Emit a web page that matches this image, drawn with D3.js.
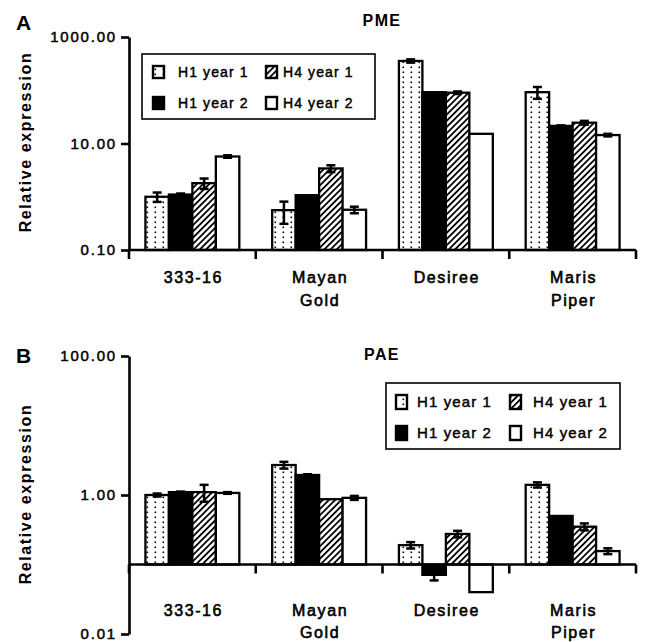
<!DOCTYPE html>
<html>
<head>
<meta charset="utf-8">
<script src="https://cdn.jsdelivr.net/npm/d3@7"></script>
<style>
  body { margin: 0; background: #fff; }
  svg text { font-family: Arial, "Liberation Sans", sans-serif; fill: #000; }
</style>
</head>
<body>
<div id="chart"></div>
<script>
// categories and series
var categories = ["333-16", "Mayan Gold", "Desiree", "Maris Piper"];
var categoryLines = [["333-16"], ["Mayan", "Gold"], ["Desiree"], ["Maris", "Piper"]];
var seriesNames = ["H1 year 1", "H1 year 2", "H4 year 1", "H4 year 2"];

// PME relative expression
var pmeH1Year1 = [1.0, 0.56, 355, 92];
var pmeH1Year2 = [1.1, 1.07, 92, 21.4];
var pmeH4Year1 = [1.8, 3.4, 90, 24.6];
var pmeH4Year2 = [5.7, 0.57, 15.2, 14.4];
var pmeErrH1Year1 = [0.2, 0.25, 25, 23];
var pmeErrH1Year2 = [0.05, 0, 0, 0.5];
var pmeErrH4Year1 = [0.4, 0.5, 5, 2];
var pmeErrH4Year2 = [0.3, 0.08, 0, 0.8];
var pmeTicks = [0.1, 10, 1000];

// PAE relative expression
var paeH1Year1 = [1.0, 2.7, 0.19, 1.4];
var paeH1Year2 = [1.1, 1.94, 0.071, 0.50];
var paeH4Year1 = [1.1, 0.87, 0.275, 0.35];
var paeH4Year2 = [1.07, 0.91, 0.04, 0.156];
var paeErrH1Year1 = [0.05, 0.3, 0.02, 0.12];
var paeErrH1Year2 = [0.02, 0.05, 0.012, 0];
var paeErrH4Year1 = [0.3, 0, 0.03, 0.04];
var paeErrH4Year2 = [0.03, 0.06, 0, 0.015];
var paeTicks = [0.01, 1, 100];

var width = 646, height = 642;

var svg = d3.select("#chart").append("svg")
    .attr("width", width)
    .attr("height", height);

var defs = svg.append("defs");

// dotted fill for H1 year 1
var dots = defs.append("pattern")
    .attr("id", "dots")
    .attr("patternUnits", "userSpaceOnUse")
    .attr("width", 8)
    .attr("height", 5);
dots.append("rect").attr("width", 8).attr("height", 5).attr("fill", "#fff");
dots.append("rect").attr("x", 2.5).attr("y", 1.5).attr("width", 1.6).attr("height", 1.6).attr("fill", "#000");

// diagonal hatch for H4 year 1
var hatch = defs.append("pattern")
    .attr("id", "hatch")
    .attr("patternUnits", "userSpaceOnUse")
    .attr("width", 4.4)
    .attr("height", 4.4)
    .attr("patternTransform", "rotate(45)");
hatch.append("rect").attr("width", 4.4).attr("height", 4.4).attr("fill", "#fff");
hatch.append("rect").attr("width", 1.8).attr("height", 4.4).attr("fill", "#000");

var fills = ["url(#dots)", "#000", "url(#hatch)", "#fff"];

function drawPanel(cfg) {
	var g = svg.append("g");

	var x = d3.scaleBand().domain(categories).range([129, 636]),
		xs = d3.scaleBand().domain(seriesNames).range([0, x.bandwidth()]).paddingOuter(0.7),
		y = d3.scaleLog().domain(cfg.domain).range(cfg.range);

	var base = y(cfg.baseline);

	var rows = [];
	categories.forEach(function(c, i) {
		seriesNames.forEach(function(s, j) {
			rows.push({cat: c, ser: s, j: j, v: cfg.values[j][i], e: cfg.errors[j][i]});
		});
	});

	// bars
	g.selectAll(".bar")
		.data(rows)
		.enter().append("rect")
			.attr("class", "bar")
			.attr("x", function(d) { return x(d.cat) + xs(d.ser); })
			.attr("y", function(d) { return Math.min(y(d.v), base); })
			.attr("width", xs.bandwidth())
			.attr("height", function(d) { return Math.abs(y(d.v) - base); })
			.attr("fill", function(d) { return fills[d.j]; })
			.attr("stroke", "#000")
			.attr("stroke-width", 2.3);

	// error bars
	var errs = g.selectAll(".err")
		.data(rows.filter(function(d) { return d.e > 0; }))
		.enter().append("g")
			.attr("class", "err")
			.attr("transform", function(d) { return "translate(" + (x(d.cat) + xs(d.ser) + xs.bandwidth() / 2) + ",0)"; })
			.attr("stroke", "#000")
			.attr("stroke-width", 2.5);

	errs.append("line")
		.attr("y1", function(d) { return y(d.v + d.e); })
		.attr("y2", function(d) { return y(Math.max(d.v - d.e, cfg.domain[0])); });
	errs.append("line")
		.attr("x1", -4.5).attr("x2", 4.5)
		.attr("y1", function(d) { return y(d.v + d.e); })
		.attr("y2", function(d) { return y(d.v + d.e); });
	errs.append("line")
		.attr("x1", -4.5).attr("x2", 4.5)
		.attr("y1", function(d) { return y(d.v - d.e); })
		.attr("y2", function(d) { return y(d.v - d.e); });

	// y axis
	var yAxis = d3.axisLeft(y)
		.tickValues(cfg.ticks)
		.tickFormat(d3.format(".2f"))
		.tickSize(8)
		.tickSizeOuter(0)
		.tickPadding(4);

	var ya = g.append("g")
		.attr("transform", "translate(129,0)")
		.call(yAxis);
	ya.select(".domain").attr("stroke-width", 2.6);
	ya.selectAll(".tick line").attr("stroke-width", 2.6);
	ya.selectAll(".tick text")
		.style("font-size", cfg.tickFont + "px")
		.style("letter-spacing", "1.8px")
		.attr("stroke", "#000")
		.attr("stroke-width", 0.5);

	// x axis line at the baseline with category dividers
	g.append("line")
		.attr("x1", 129).attr("x2", 636)
		.attr("y1", base).attr("y2", base)
		.attr("stroke", "#000")
		.attr("stroke-width", 2.6);
	g.selectAll(".xtick")
		.data(categories)
		.enter().append("line")
			.attr("class", "xtick")
			.attr("x1", function(d) { return x(d) + x.bandwidth(); })
			.attr("x2", function(d) { return x(d) + x.bandwidth(); })
			.attr("y1", base).attr("y2", base + 9)
			.attr("stroke", "#000")
			.attr("stroke-width", 2.6);
	g.append("line")
		.attr("x1", 129).attr("x2", 129)
		.attr("y1", base).attr("y2", base + 9)
		.attr("stroke", "#000")
		.attr("stroke-width", 2.6);

	// category labels
	var cl = g.selectAll(".cat")
		.data(categories)
		.enter().append("text")
			.attr("class", "cat")
			.attr("text-anchor", "middle")
			.style("font-size", "16px")
			.style("letter-spacing", "1.6px")
			.attr("stroke", "#000")
			.attr("stroke-width", 0.6);
	cl.selectAll("tspan")
		.data(function(d, i) { return categoryLines[i].map(function(t) { return {t: t, c: d}; }); })
		.enter().append("tspan")
			.attr("x", function(d) { return x(d.c) + x.bandwidth() / 2 + 1; })
			.attr("y", function(d, k) { return cfg.labelY + k * cfg.lineGap; })
			.text(function(d) { return d.t; });

	// legend
	var L = cfg.legend;
	g.append("rect")
		.attr("x", L.x).attr("y", L.y)
		.attr("width", L.w).attr("height", L.h)
		.attr("fill", "#fff")
		.attr("stroke", "#000")
		.attr("stroke-width", 1.6);

	var li = g.selectAll(".legend")
		.data(seriesNames)
		.enter().append("g")
			.attr("class", "legend")
			.attr("transform", function(d, j) {
				return "translate(0," + L.rows[j % 2] + ")";
			});

	li.append("rect")
		.attr("x", function(d, j) { return L.swatchX[j >= 2 ? 1 : 0]; })
		.attr("y", -L.sh / 2)
		.attr("width", L.sw)
		.attr("height", L.sh)
		.attr("fill", function(d, j) { return fills[j]; })
		.attr("stroke", "#000")
		.attr("stroke-width", 2.4);

	li.append("text")
		.attr("x", function(d, j) { return L.textX[j >= 2 ? 1 : 0]; })
		.attr("dy", "0.36em")
		.style("font-size", L.font + "px")
		.style("letter-spacing", "1.1px")
		.attr("stroke", "#000")
		.attr("stroke-width", 0.45)
		.text(function(d) { return d; });

	// title, panel letter, y label
	g.append("text")
		.attr("x", 382).attr("y", cfg.titleY)
		.attr("text-anchor", "middle")
		.style("font-size", "16px")
		.style("font-weight", "bold")
		.style("letter-spacing", "1.4px")
		.text(cfg.title);

	g.append("text")
		.attr("x", 16).attr("y", cfg.letterY)
		.style("font-size", "21px")
		.style("font-weight", "bold")
		.text(cfg.letter);

	g.append("text")
		.attr("transform", "translate(31," + cfg.yLabelCenter + ") rotate(-90)")
		.attr("text-anchor", "middle")
		.style("font-size", "16px")
		.style("font-weight", "bold")
		.style("letter-spacing", "1.6px")
		.text("Relative expression");
}

drawPanel({
	values: [pmeH1Year1, pmeH1Year2, pmeH4Year1, pmeH4Year2],
	errors: [pmeErrH1Year1, pmeErrH1Year2, pmeErrH4Year1, pmeErrH4Year2],
	ticks: pmeTicks,
	domain: [0.1, 1000],
	range: [250, 37],
	baseline: 0.1,
	tickFont: 15,
	labelY: 283,
	lineGap: 23,
	title: "PME",
	titleY: 26,
	letter: "A",
	letterY: 30,
	yLabelCenter: 142,
	legend: {x: 142, y: 54, w: 233, h: 65, rows: [72, 103], swatchX: [153, 266], textX: [178, 283], sw: 11, sh: 12, font: 14}
});

drawPanel({
	values: [paeH1Year1, paeH1Year2, paeH4Year1, paeH4Year2],
	errors: [paeErrH1Year1, paeErrH1Year2, paeErrH4Year1, paeErrH4Year2],
	ticks: paeTicks,
	domain: [0.01, 100],
	range: [634, 356],
	baseline: 0.1,
	tickFont: 15,
	labelY: 616,
	lineGap: 22,
	title: "PAE",
	titleY: 360,
	letter: "B",
	letterY: 363,
	yLabelCenter: 494,
	legend: {x: 386, y: 383, w: 234, h: 66, rows: [402, 433], swatchX: [396, 510], textX: [417, 533], sw: 11, sh: 14, font: 15}
});
</script>
</body>
</html>
